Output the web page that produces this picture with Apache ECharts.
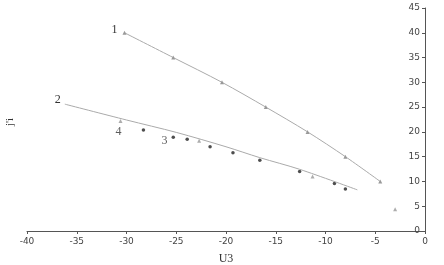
<!DOCTYPE html>
<html><head><meta charset="utf-8">
<script src="https://cdn.jsdelivr.net/npm/echarts@6/dist/echarts.min.js"></script>
<style>html,body{margin:0;padding:0;background:#fff}#c{width:444px;height:265px}</style>
</head><body><div id="c"></div>
<script>
var xTicks = [-40,-35,-30,-25,-20,-15,-10,-5,0];
var yTicks = [0,5,10,15,20,25,30,35,40,45];
var line1X = [-30.2,-25.3,-20.4,-16.0,-11.8,-8.0,-4.5];
var line1Y = [40,35,30,25,20,15,10];
var line2X = [-36.2,-30,-25,-20,-16.6,-12.6,-6.8];
var line2Y = [25.6,22.4,19.9,17.0,14.8,12.45,8.3];
var pts3X = [-28.3,-25.3,-23.9,-21.6,-19.3,-16.6,-12.6,-9.1,-8.0];
var pts3Y = [20.4,18.9,18.5,17.0,15.8,14.3,12.0,9.6,8.5];
var pts4X = [-30.6,-22.7,-11.3,-3.0];
var pts4Y = [22.2,18.2,11.0,4.4];
var curveLabels = ['1','2','3','4'];

function zip(a,b){return a.map(function(v,i){return [v,b[i]];});}
var serif = '"Liberation Serif", "DejaVu Serif", serif';
function lab(text, pos, off){
  return {show:true, formatter:text, position:pos, offset:off||[0,0], color:'#333', fontFamily:serif, fontSize:12};
}
var d1 = zip(line1X,line1Y).map(function(p,i){return i===0?{value:p,label:lab(curveLabels[0],'left',[0,-3])}:{value:p};});
var d2 = zip(line2X,line2Y).map(function(p,i){return i===0?{value:p,label:lab(curveLabels[1],'left',[1,-4])}:{value:p};});
var d3 = zip(pts3X,pts3Y).map(function(p,i){return i===1?{value:p,label:lab(curveLabels[2],'left',[1,4])}:{value:p};});
var d4 = zip(pts4X,pts4Y).map(function(p,i){return i===0?{value:p,label:lab(curveLabels[3],'bottom',[-2,-2])}:{value:p};});

var chart = echarts.init(document.getElementById('c'));
chart.setOption({
  animation:false,
  grid:{left:27,right:19,top:8,bottom:34,containLabel:false,outerBoundsMode:'none'},
  xAxis:{type:'value',min:-40,max:0,interval:5,
    name:'U3',nameLocation:'middle',nameGap:22,
    nameTextStyle:{color:'#333',fontFamily:serif,fontSize:12},
    axisLine:{onZero:false,lineStyle:{color:'#555'}},
    axisTick:{show:true,length:3,lineStyle:{color:'#555'}},
    axisLabel:{color:'#444',fontSize:9,fontFamily:'"DejaVu Sans", sans-serif',margin:6,
      formatter:function(v){return xTicks.indexOf(v)>=0?String(v):'';}},
    splitLine:{show:false}},
  yAxis:{type:'value',min:0,max:45,interval:5,position:'right',
    axisLine:{show:true,lineStyle:{color:'#555'}},
    axisTick:{show:true,inside:true,length:3,lineStyle:{color:'#555'}},
    axisLabel:{inside:true,color:'#444',fontSize:9,fontFamily:'"DejaVu Sans", sans-serif',margin:5,
      formatter:function(v){return yTicks.indexOf(v)>=0?String(v):'';}},
    splitLine:{show:false}},
  graphic:[{type:'text',x:10,y:122,rotation:Math.PI/2,
    style:{text:"j'i",fill:'#333',font:'11px '+serif,textAlign:'center',textVerticalAlign:'middle'}}],
  series:[
    {type:'line',data:d1,smooth:0.3,symbol:'triangle',symbolSize:4,
      lineStyle:{color:'#aaa',width:1},itemStyle:{color:'#999'}},
    {type:'line',data:d2,smooth:0.3,showSymbol:true,symbol:'circle',symbolSize:0.01,
      lineStyle:{color:'#aaa',width:1},itemStyle:{color:'#aaa'}},
    {type:'scatter',data:d3,symbol:'circle',symbolSize:3.5,itemStyle:{color:'#222'}},
    {type:'scatter',data:d4,symbol:'triangle',symbolSize:4,itemStyle:{color:'#999'}}
  ]
});
</script></body></html>
